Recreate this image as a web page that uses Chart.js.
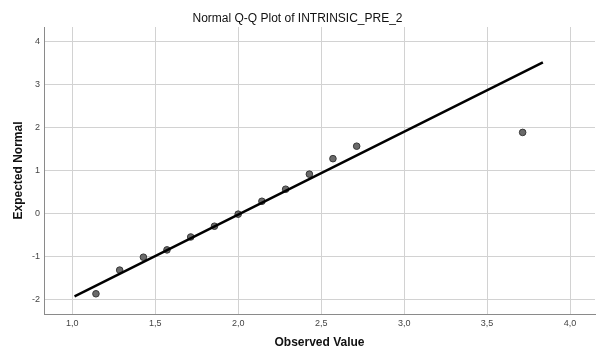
<!DOCTYPE html>
<html>
<head>
<meta charset="utf-8">
<script src="https://cdn.jsdelivr.net/npm/chart.js@4.4.1/dist/chart.umd.min.js"></script>
<style>
  body { margin: 0; background: #fff; }
</style>
</head>
<body>
<canvas id="qqChart" width="596" height="352"></canvas>
<script>
const observed = [1.143, 1.286, 1.429, 1.571, 1.714, 1.857, 2.0, 2.143, 2.286, 2.429, 2.571, 2.714, 3.714]
const expected = [-1.87, -1.32, -1.02, -0.85, -0.55, -0.30, -0.02, 0.28, 0.56, 0.91, 1.27, 1.56, 1.88]

// reference line end points
const lineX = [1.014, 3.836]
const lineY = [-1.93, 3.51]

const xTicks = [1.0, 1.5, 2.0, 2.5, 3.0, 3.5, 4.0]
const xTickLabels = ['1,0', '1,5', '2,0', '2,5', '3,0', '3,5', '4,0']
const yTicks = [-2, -1, 0, 1, 2, 3, 4]
const yTickLabels = ['-2', '-1', '0', '1', '2', '3', '4']

const font = "'Liberation Sans', Arial, sans-serif"

const points = observed.map((x, i) => ({x: x, y: expected[i]}))
const refLine = lineX.map((x, i) => ({x: x, y: lineY[i]}))

const ctx = document.getElementById('qqChart').getContext('2d')
const qqChart = new Chart(ctx, {
  type: 'scatter',
  data: {
    datasets: [
      {
        type: 'line',
        data: refLine,
        borderColor: '#000',
        borderWidth: 2.5,
        pointRadius: 0,
        fill: false,
        order: 0
      },
      {
        data: points,
        backgroundColor: '#6a6a6a',
        borderColor: '#383838',
        borderWidth: 1,
        pointRadius: 3.3,
        order: 1
      }
    ]
  },
  options: {
    responsive: false,
    animation: false,
    layout: { autoPadding: false, padding: { left: 0, right: 1, top: 0, bottom: 0 } },
    plugins: {
      legend: { display: false },
      tooltip: { enabled: false },
      title: {
        display: true,
        text: 'Normal Q-Q Plot of INTRINSIC_PRE_2',
        color: '#111',
        font: { family: font, size: 12, weight: 'normal' },
        padding: { top: 11, bottom: 1.6 }
      }
    },
    scales: {
      x: {
        type: 'linear',
        min: 0.83,
        max: 4.15,
        afterBuildTicks: s => { s.ticks = xTicks.map(v => ({value: v})) },
        afterFit: s => { s.height = 38 },
        ticks: {
          padding: 4,
          color: '#444',
          font: { family: font, size: 9 },
          callback: (v, i) => xTickLabels[i]
        },
        grid: { color: '#d2d2d2', drawTicks: false },
        border: { color: '#8a8a8a', width: 1 },
        title: {
          display: true,
          text: 'Observed Value',
          color: '#111',
          font: { family: font, size: 12, weight: 'bold' },
          padding: { top: 0, bottom: 2 }
        }
      },
      y: {
        type: 'linear',
        min: -2.34,
        max: 4.33,
        afterBuildTicks: s => { s.ticks = yTicks.map(v => ({value: v})) },
        afterFit: s => { s.width = 44 },
        ticks: {
          padding: 4,
          color: '#444',
          font: { family: font, size: 9 },
          callback: (v, i) => yTickLabels[i]
        },
        grid: { color: '#d2d2d2', drawTicks: false },
        border: { color: '#8a8a8a', width: 1 },
        title: {
          display: true,
          text: 'Expected Normal',
          color: '#111',
          font: { family: font, size: 12, weight: 'bold' },
          padding: { top: 11, bottom: 0 }
        }
      }
    }
  }
})
</script>
</body>
</html>
